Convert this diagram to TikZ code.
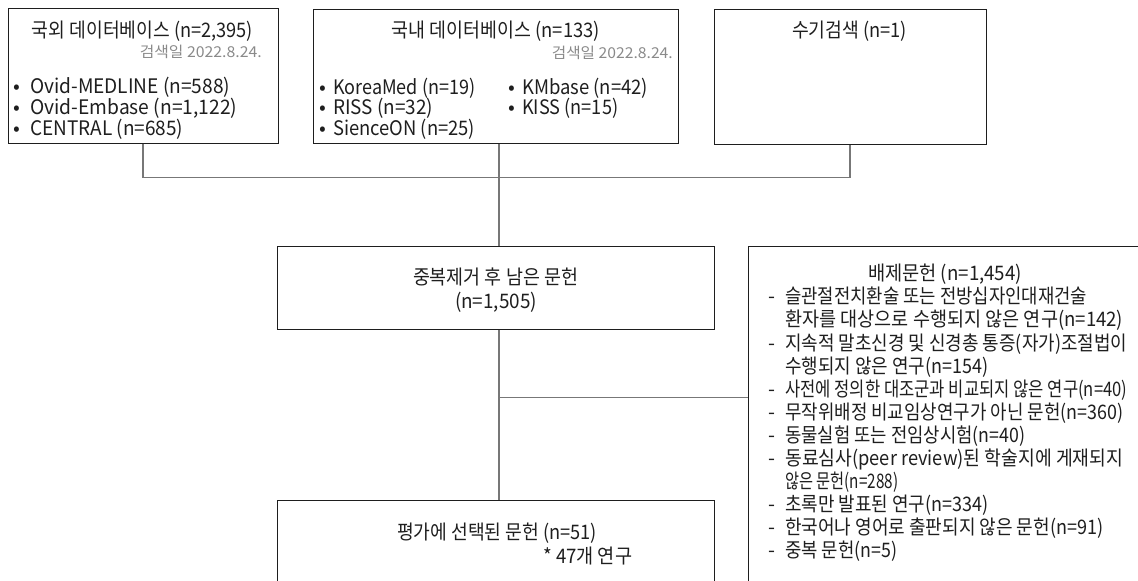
\documentclass[tikz,border=0pt]{standalone}
\usepackage{fontspec}
\usepackage{graphicx}
\setmainfont{Noto Sans CJK KR}
\newcommand{\fw}[2]{\resizebox{#1pt}{\height}{#2}}
\definecolor{ink}{HTML}{1E1E1E}
\definecolor{datecol}{HTML}{8A8A8A}
\definecolor{linecol}{HTML}{777777}
\begin{document}
\begin{tikzpicture}[x=1pt,y=-1pt,
  box/.style={draw=ink, line width=1pt, rectangle, inner sep=0pt},
  conn/.style={draw=linecol, line width=1.4pt},
  txt/.style={inner sep=0pt, font=\fontsize{20}{22}\selectfont, text=ink},
  datetxt/.style={inner sep=0pt, font=\fontsize{15}{18}\selectfont, text=datecol}]
\useasboundingbox (0,0) rectangle (1138,581);
\clip (0,0) rectangle (1138,581);
% boxes
\node[box, minimum width=270, minimum height=135] (b1) at (143,75.5) {};
\node[box, minimum width=365, minimum height=134] (b2) at (495.5,76) {};
\node[box, minimum width=272, minimum height=135] (b3) at (850,76.5) {};
\node[box, minimum width=437, minimum height=83] (b4) at (495.5,287.5) {};
\node[box, minimum width=437, minimum height=120] (b5) at (495.5,560) {};
\node[box, minimum width=420, minimum height=360] (b6) at (958,426) {};
% connectors
\coordinate (jm) at (499,177.5);
\coordinate (jb) at (499,397.7);
\draw[conn] (b1.south) |- (jm) -| (b3.south);
\draw[conn] (b2.south -| jm) -- (b4.north -| jm);
\draw[conn] (b4.south -| jm) -- (b5.north -| jm);
\draw[conn] (jb) -- (jb -| b6.west);
% box 1 text
\node[txt, anchor=base] (t1) at (142.5,37) {\fw{221}{국외 데이터베이스 (n=2,395)}};
\node[datetxt, anchor=base east] (d1) at (262,57.7) {\fw{122}{검색일 2022.8.24.}};
\node[txt, anchor=base] (p1a) at (17,93) {•};
\node[txt, anchor=base] (p1b) at (17,114) {•};
\node[txt, anchor=base] (p1c) at (17,135) {•};
\node[txt, anchor=base west] (l1a) at (30,93) {\fw{200}{Ovid-MEDLINE (n=588)}};
\node[txt, anchor=base west] (l1b) at (30,114) {\fw{207}{Ovid-Embase (n=1,122)}};
\node[txt, anchor=base west] (l1c) at (30,135) {\fw{153}{CENTRAL (n=685)}};
% box 2 text
\node[txt, anchor=base] (t2) at (496,37.7) {\fw{208}{국내 데이터베이스 (n=133)}};
\node[datetxt, anchor=base east] (d2) at (673,58.7) {\fw{121}{검색일 2022.8.24.}};
\node[txt, anchor=base] (p2a) at (323,94) {•};
\node[txt, anchor=base] (p2b) at (323,114) {•};
\node[txt, anchor=base] (p2c) at (323,135) {•};
\node[txt, anchor=base west] (l2a) at (333,94) {\fw{142}{KoreaMed (n=19)}};
\node[txt, anchor=base west] (l2b) at (333,114) {\fw{100}{RISS (n=32)}};
\node[txt, anchor=base west] (l2c) at (333,135) {\fw{142}{SienceON (n=25)}};
\node[txt, anchor=base] (p2d) at (512,94) {•};
\node[txt, anchor=base] (p2e) at (512,114) {•};
\node[txt, anchor=base west] (l2d) at (522,94) {\fw{126}{KMbase (n=42)}};
\node[txt, anchor=base west] (l2e) at (522,114) {\fw{96}{KISS (n=15)}};
% box 3 text
\node[txt, anchor=base] (t3) at (849.5,37.7) {\fw{115}{수기검색 (n=1)}};
% box 4 text
\node[txt, anchor=base] (t4a) at (495.5,284.7) {\fw{165}{중복제거 후 남은 문헌}};
\node[txt, anchor=base] (t4b) at (496,308) {\fw{82}{(n=1,505)}};
% box 5 text
\node[txt, anchor=base] (t5a) at (497,539.7) {\fw{200}{평가에 선택된 문헌 (n=51)}};
\node[txt, anchor=base west] (t5b) at (543,563.5) {\fw{89}{* 47개 연구}};
% box 6 text
\node[txt, anchor=base] (t6) at (945,280.7) {\fw{154}{배제문헌 (n=1,454)}};
\node[txt, anchor=base] (m1) at (772,303.8) {-};
\node[txt, anchor=base west] (x1) at (785,303.8) {\fw{302}{슬관절전치환술 또는 전방십자인대재건술}};
\node[txt, anchor=base west] (x2) at (785,326.9) {\fw{338}{환자를 대상으로 수행되지 않은 연구(n=142)}};
\node[txt, anchor=base] (m3) at (772,350.0) {-};
\node[txt, anchor=base west] (x3) at (785,350.0) {\fw{342}{지속적 말초신경 및 신경총 통증(자가)조절법이}};
\node[txt, anchor=base west] (x4) at (785,373.1) {\fw{203}{수행되지 않은 연구(n=154)}};
\node[txt, anchor=base] (m5) at (772,396.2) {-};
\node[txt, anchor=base west] (x5) at (785,396.2) {\fw{342}{사전에 정의한 대조군과 비교되지 않은 연구(n=40)}};
\node[txt, anchor=base] (m6) at (772,419.3) {-};
\node[txt, anchor=base west] (x6) at (785,419.3) {\fw{338}{무작위배정 비교임상연구가 아닌 문헌(n=360)}};
\node[txt, anchor=base] (m7) at (772,442.4) {-};
\node[txt, anchor=base west] (x7) at (785,442.4) {\fw{240}{동물실험 또는 전임상시험(n=40)}};
\node[txt, anchor=base] (m8) at (772,465.5) {-};
\node[txt, anchor=base west] (x8) at (785,465.5) {\fw{338}{동료심사(peer review)된 학술지에 게재되지}};
\node[txt, anchor=base west] (x9) at (785,488.6) {\fw{113}{않은 문헌(n=288)}};
\node[txt, anchor=base] (m10) at (772,511.7) {-};
\node[txt, anchor=base west] (x10) at (785,511.7) {\fw{203}{초록만 발표된 연구(n=334)}};
\node[txt, anchor=base] (m11) at (772,534.8) {-};
\node[txt, anchor=base west] (x11) at (785,534.8) {\fw{318}{한국어나 영어로 출판되지 않은 문헌(n=91)}};
\node[txt, anchor=base] (m12) at (772,557.9) {-};
\node[txt, anchor=base west] (x12) at (785,557.9) {\fw{112}{중복 문헌(n=5)}};
\end{tikzpicture}
\end{document}
